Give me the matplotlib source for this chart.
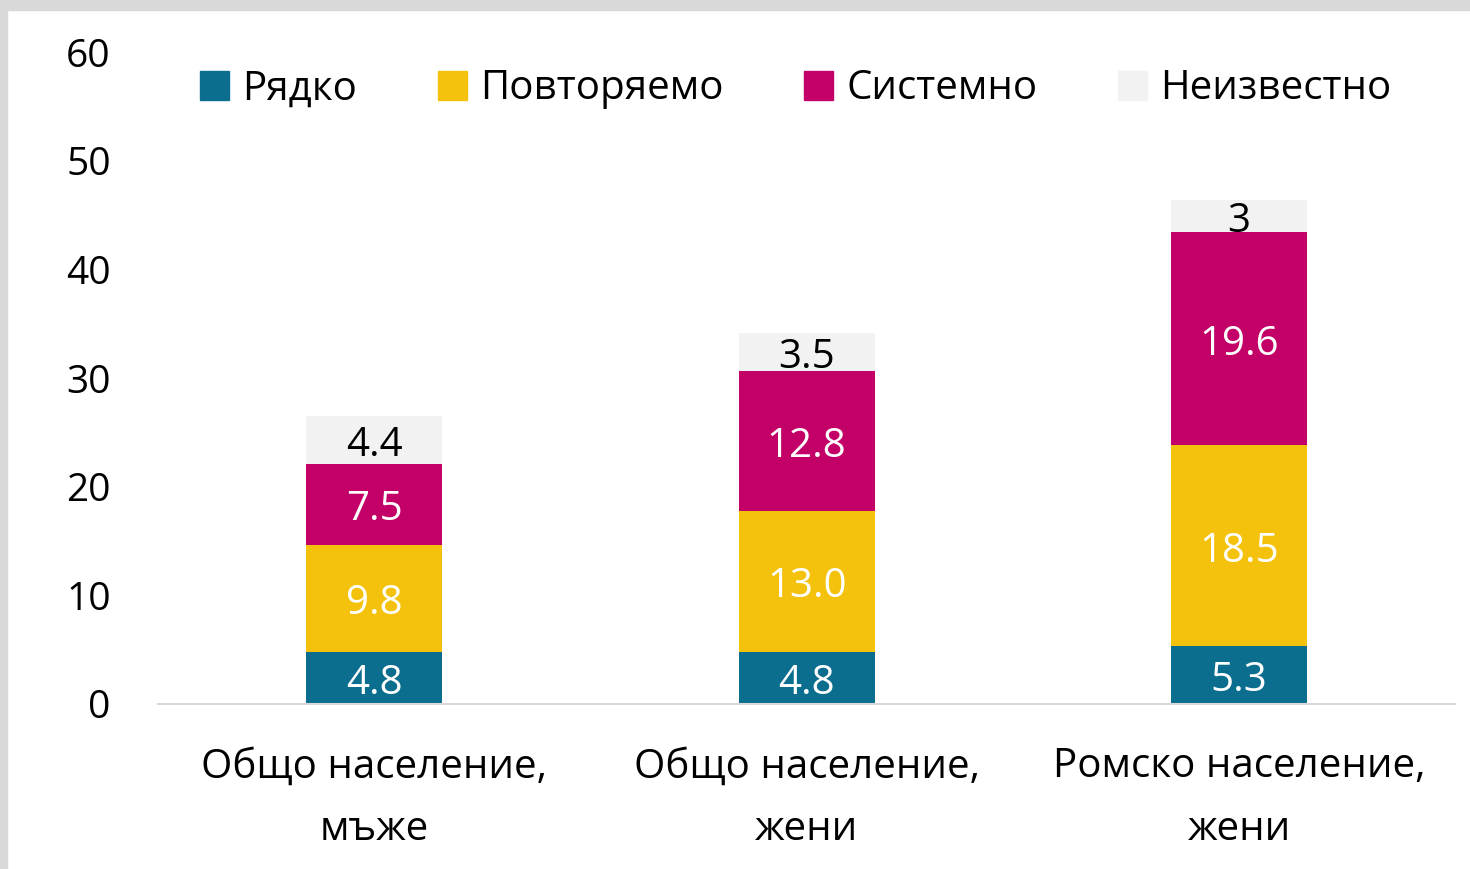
import matplotlib.pyplot as plt
from matplotlib.patches import Patch, Rectangle
import numpy as np

plt.rcParams['font.family'] = ['Open Sans', 'DejaVu Sans']

# data
categories = ['Общо население,\nмъже', 'Общо население,\nжени', 'Ромско население,\nжени']
series_names = ['Рядко', 'Повторяемо', 'Системно', 'Неизвестно']
rarely = [4.8, 4.8, 5.3]
repeated = [9.8, 13.0, 18.5]
systematic = [7.5, 12.8, 19.6]
unknown = [4.4, 3.5, 3]
labels = [['4.8', '4.8', '5.3'], ['9.8', '13.0', '18.5'], ['7.5', '12.8', '19.6'], ['4.4', '3.5', '3']]

colors = ['#0B6E8E', '#F4C20D', '#C30067', '#F2F2F2']
text_colors = ['white', 'white', 'white', 'black']

fig = plt.figure(figsize=(14.7, 8.69), dpi=100)
ax = fig.add_axes([0.1075, 0.19, 0.8825, 0.75])

# grey frame on top and left like in the source
fig.patches.append(Rectangle((0, 1 - 10 / 869), 1, 10 / 869, transform=fig.transFigure,
                             color='#D9D9D9', zorder=0))
fig.patches.append(Rectangle((0, 0), 7 / 1470, 1, transform=fig.transFigure,
                             color='#D9D9D9', zorder=0))

x = np.arange(len(categories))
bottom = np.zeros(len(categories))
for vals, name, col, tcol, labs in zip([rarely, repeated, systematic, unknown],
                                        series_names, colors, text_colors, labels):
    bars = ax.bar(x, vals, width=0.315, bottom=bottom, color=col, label=name)
    txts = ax.bar_label(bars, labels=labs, label_type='center', color=tcol, fontsize=29)
    for t in txts:
        t.set_y(t.get_position()[1] - 4)
    bottom += np.array(vals)

ax.set_xlim(-0.5, 2.5)
ax.set_ylim(0, 60)
ax.set_yticks(range(0, 61, 10))
ax.set_xticks(x)
ax.set_xticklabels(categories, fontsize=29, linespacing=1.72)
ax.tick_params(axis='y', length=0, labelsize=28, pad=34)
ax.tick_params(axis='x', length=0, pad=31)
for s in ['top', 'right', 'left']:
    ax.spines[s].set_visible(False)
ax.spines['bottom'].set_color('#D9D9D9')
ax.spines['bottom'].set_linewidth(1.5)

handles = [Patch(color=c) for c in colors]
fig.legend(handles, series_names, loc='center left', bbox_to_anchor=(200 / 1470, 1 - 89 / 869),
           ncol=4, frameon=False, fontsize=29, handlelength=0.72, handleheight=0.72,
           handletextpad=0.33, columnspacing=2.0, borderaxespad=0, borderpad=0)

fig.savefig('out.png', dpi=100)
